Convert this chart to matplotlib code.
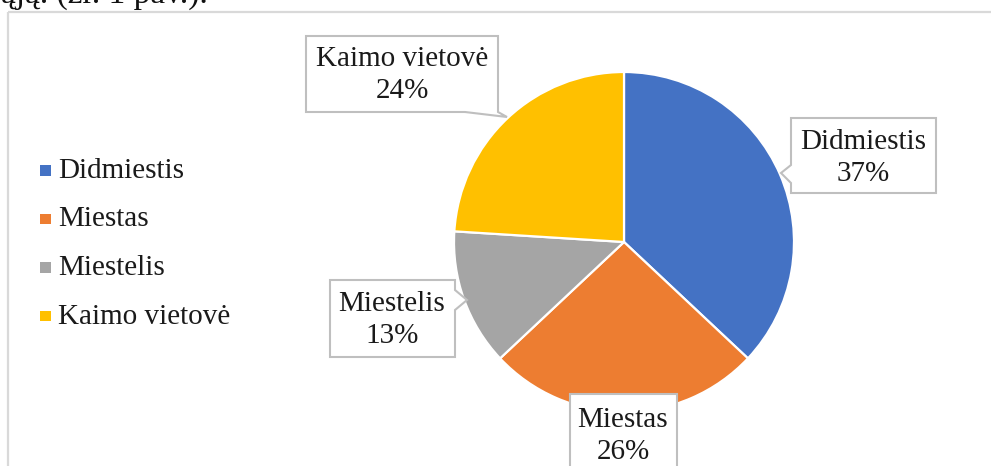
import matplotlib
matplotlib.use("Agg")
import matplotlib.pyplot as plt
from matplotlib.patches import Polygon, Rectangle

# Settlement type shares (%)
categories = ["Didmiestis", "Miestas", "Miestelis", "Kaimo vietovė"]
shares = [37, 26, 13, 24]
colors = ["#4472C4", "#ED7D31", "#A5A5A5", "#FFC000"]
caption = "ąją. (žr. 1 pav.)."

plt.rcParams["font.family"] = ["Liberation Serif", "DejaVu Serif"]

W, H = 991, 466
fig = plt.figure(figsize=(W / 100, H / 100), dpi=100)
ax = fig.add_axes([0, 0, 1, 1])

# Pie, first slice at 12 o'clock running clockwise (y axis points down)
cx, cy, r = 624, 242, 170
ax.pie(shares, colors=colors, startangle=270, counterclock=True,
       center=(cx, cy), radius=r,
       wedgeprops=dict(edgecolor="white", linewidth=1.6))

ax.set_xlim(0, W)
ax.set_ylim(H, 0)
ax.set_aspect("equal")
ax.axis("off")

# Chart area frame
ax.add_patch(Rectangle((8, 12), 1100, 600, fill=False,
                       edgecolor="#d9d9d9", linewidth=1.6, zorder=0))

# Running text above the chart
ax.text(1, 3, caption, fontsize=24, color="#111111",
        ha="left", va="baseline")

# Legend
leg_x, leg_y0, leg_dy = 45, 170, 48.5
for i, (cat, col) in enumerate(zip(categories, colors)):
    y = leg_y0 + i * leg_dy
    ax.add_patch(Rectangle((leg_x - 5, y - 5), 10.5, 10.5, facecolor=col,
                           edgecolor="none"))
    ax.text(leg_x + 13, y + 1, cat, fontsize=21, color="#1a1a1a",
            ha="left", va="center")

# Callout outlines: box corners plus pointer
callouts = {
    "Didmiestis": [(791, 118), (936, 118), (936, 193), (791, 193),
                   (791, 183), (781, 173), (791, 165)],
    "Miestas": [(570, 394), (677, 394), (677, 520), (570, 520)],
    "Miestelis": [(330, 280), (455, 280), (455, 290), (467, 300),
                  (455, 310), (455, 357), (330, 357)],
    "Kaimo vietovė": [(306, 36), (498, 36), (498, 112), (507, 117),
                      (465, 112), (306, 112)],
}
text_pos = {
    "Didmiestis": (863, 158),
    "Miestas": (623, 436),
    "Miestelis": (392, 320),
    "Kaimo vietovė": (402, 75),
}

for cat, share in zip(categories, shares):
    ax.add_patch(Polygon(callouts[cat], closed=True, facecolor="white",
                         edgecolor="#bfbfbf", linewidth=1.5, zorder=5))
    tx, ty = text_pos[cat]
    ax.text(tx, ty, f"{cat}\n{share}%", fontsize=21, color="#1a1a1a",
            ha="center", va="center", linespacing=1.32, zorder=6)

fig.savefig("out.png", dpi=100)
